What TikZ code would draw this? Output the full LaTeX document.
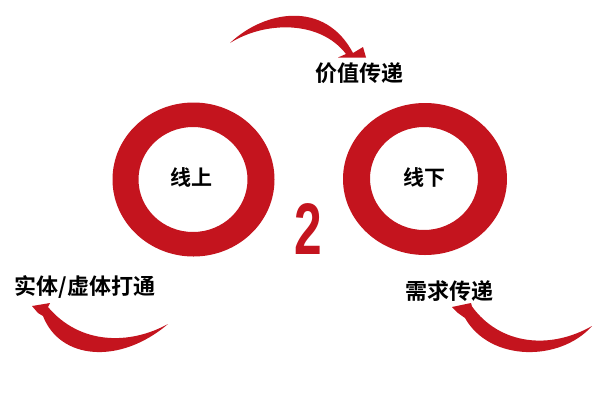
\documentclass[tikz,border=0pt]{standalone}
\usepackage{fontspec}
\newfontfamily\cjk{Noto Sans CJK SC Bold}
\newfontfamily\digitfont{Liberation Sans Bold}
\definecolor{ringred}{RGB}{196,20,30}
\begin{document}
\begin{tikzpicture}[x=1pt,y=-1pt,
  lbl/.style={inner sep=0pt,font=\cjk\fontsize{22}{26}\selectfont,text=black},
  ringlbl/.style={inner sep=0pt,font=\cjk\fontsize{21}{25}\selectfont,text=black},
  redshape/.style={fill=ringred,draw=none}]
\useasboundingbox[fill=white] (0,0) rectangle (600,400);
% rings
\fill[ringred,even odd rule] (193.5,179.5) ellipse [x radius=81,y radius=77]
                             (193,179.5) ellipse [x radius=54.5,y radius=52.5];
\fill[ringred,even odd rule] (425,179) ellipse [x radius=82,y radius=76]
                             (424,178.5) ellipse [x radius=54,y radius=51.5];
\node[ringlbl] (on) at (191,177) {线上};
\node[ringlbl] (off) at (424,177) {线下};
% the 2
\node[inner sep=0pt,text=ringred,font=\digitfont\fontsize{73}{73}\selectfont,xscale=0.68] (two) at (308.5,229) {2};
% top arrow
\path[redshape] (230,43) .. controls (265,10) and (325,0) .. (353,53)
  -- (363,47) -- (366,57.5) -- (338,57.5) -- (346,54)
  .. controls (320,20) and (265,21) .. (230,43) -- cycle;
\node[lbl] (value) at (359,73) {价值传递};
% bottom-left arrow
\path[redshape] (32,306) -- (50,303) -- (48,307)
  .. controls (80,345) and (130,345) .. (168,324)
  .. controls (120,365) and (60,360) .. (43,316)
  -- (38,313) -- cycle;
\node[lbl] (entity) at (85,287) {实体/虚体打通};
% bottom-right arrow
\path[redshape] (452,307) -- (471,303) -- (472,306.5)
  .. controls (500,345) and (550,350) .. (592,326)
  .. controls (560,362) and (490,362) .. (465,318)
  -- (458,313) -- cycle;
\node[lbl] (demand) at (449,291) {需求传递};
\end{tikzpicture}
\end{document}
